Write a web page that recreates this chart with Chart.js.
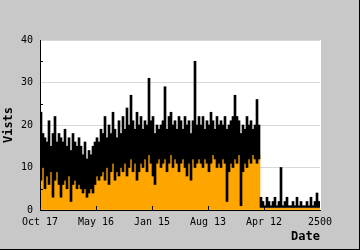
<!DOCTYPE html>
<html>
<head>
<meta charset="utf-8">
<script src="https://cdn.jsdelivr.net/npm/chart.js@4/dist/chart.umd.min.js"></script>
<style>
  body { margin: 0; background: #c8c8c8; }
  canvas { display: block; }
</style>
</head>
<body>
<canvas id="myChart" width="360" height="250"></canvas>
<script>
// x axis tick labels, one every 28 columns (140 columns of 2px)
const xLabels = ['Oct 17', 'May 16', 'Jan 15', 'Aug 13', 'Apr 12', '2500'];
const yTicks = [0, 10, 20, 30, 40];

// orange area (per column)
const visitors = [
  8, 11, 6, 9, 7, 10, 6, 8, 10, 7,
  5, 7, 8, 6, 9, 5, 7, 8, 6, 7,
  6, 5, 6, 4, 5, 6, 5, 7, 9, 8,
  9, 10, 8, 11, 9, 10, 12, 8, 10, 9,
  11, 10, 12, 9, 11, 13, 10, 12, 11, 10,
  12, 11, 13, 10, 14, 12, 9, 7, 12, 13,
  11, 12, 13, 10, 12, 14, 11, 13, 12, 10,
  12, 13, 11, 9, 12, 8, 13, 11, 12, 13,
  12, 11, 13, 12, 10, 12, 14, 13, 11, 12,
  11, 13, 12, 2, 10, 12, 11, 13, 12, 14,
  1, 10, 12, 11, 13, 12, 14, 13, 12, 13,
  0.4, 0.4, 0.4, 0.4, 0.4, 0.4, 0.4, 0.4, 0.4, 0.4,
  0.4, 0.4, 0.4, 0.4, 0.4, 0.4, 0.4, 0.4, 0.4, 0.4,
  0.4, 0.4, 0.4, 0.4, 0.4, 0.4, 0.4, 0.4, 0.4, 0.4
];

// black line: lowest and highest point inside each column
const visitsLow = [
  7, 10, 5, 8, 6, 9, 3, 7, 9, 6,
  3, 6, 7, 5, 8, 2, 6, 7, 5, 6,
  5, 4, 5, 3, 4, 5, 4, 6, 8, 7,
  8, 9, 7, 10, 6, 9, 11, 7, 9, 8,
  10, 9, 11, 8, 10, 12, 9, 11, 7, 9,
  11, 10, 12, 9, 13, 11, 8, 6, 11, 12,
  10, 11, 12, 9, 11, 13, 10, 12, 11, 9,
  11, 12, 10, 8, 11, 7, 12, 10, 11, 12,
  11, 10, 12, 11, 9, 11, 13, 12, 10, 11,
  10, 12, 11, 2, 9, 11, 10, 12, 11, 13,
  1, 9, 11, 10, 12, 11, 13, 12, 11, 12,
  0.6, 0.6, 0.6, 0.6, 0.6, 0.6, 0.6, 0.6, 0.6, 0.6,
  0.6, 0.6, 0.6, 0.6, 0.6, 0.6, 0.6, 0.6, 0.6, 0.6,
  0.6, 0.6, 0.6, 0.6, 0.6, 0.6, 0.6, 0.6, 0.6, 0.6
];
const visitsHigh = [
  23, 18, 17, 16, 21, 15, 18, 22, 16, 18,
  17, 16, 19, 15, 17, 14, 18, 16, 15, 17,
  15, 13, 16, 12, 14, 13, 15, 16, 17, 16,
  19, 18, 22, 17, 20, 18, 23, 19, 17, 21,
  18, 22, 19, 24, 20, 27, 21, 19, 23, 20,
  22, 19, 21, 20, 31, 21, 22, 18, 20, 19,
  20, 21, 29, 19, 22, 23, 20, 21, 19, 22,
  21, 19, 22, 20, 21, 18, 21, 35, 20, 22,
  20, 22, 19, 21, 20, 23, 21, 19, 22, 20,
  21, 20, 22, 19, 20, 21, 22, 27, 22, 21,
  18, 20, 19, 22, 20, 21, 19, 20, 26, 20,
  3, 2, 1, 3, 2, 1, 2, 3, 1, 2,
  10, 1, 2, 3, 1, 1, 2, 1, 3, 1,
  2, 1, 1, 2, 1, 3, 1, 2, 4, 2
];

const ctx = document.getElementById('myChart');
const FONT = "'DejaVu Sans Mono', monospace";

const orangeData = visitors.map((v, i) => ({ x: i + 0.5, y: v }));
const blackData = visitsLow.map((v, i) => ({ x: i + 0.5, y: [v, visitsHigh[i]] }));

const frame = {
  id: 'frame',
  beforeDraw(chart) {
    const c = chart.ctx, a = chart.chartArea;
    c.save();
    c.fillStyle = '#ffffff';
    c.fillRect(a.left, a.top, a.right - a.left + 1, a.bottom - a.top);
    c.restore();
  },
  afterDatasetsDraw(chart) {
    const c = chart.ctx, a = chart.chartArea;
    const y = chart.scales.y, x = chart.scales.x;
    c.save();
    c.strokeStyle = '#000';
    c.lineWidth = 1;
    c.beginPath();
    // small marks between the grid lines
    [5, 15, 25, 35].forEach(v => {
      const py = Math.round(y.getPixelForValue(v)) + 0.5;
      c.moveTo(a.left, py);
      c.lineTo(a.left + 3, py);
    });
    [28, 56, 84, 112].forEach(v => {
      const px = Math.round(x.getPixelForValue(v)) + 0.5;
      c.moveTo(px, a.bottom);
      c.lineTo(px, a.bottom - 4);
    });
    c.stroke();
    c.restore();
  },
  afterDraw(chart) {
    const c = chart.ctx;
    c.save();
    c.strokeStyle = '#000';
    c.lineWidth = 1;
    c.beginPath();
    c.moveTo(359.5, 0);
    c.lineTo(359.5, 250);
    c.moveTo(0, 249.5);
    c.lineTo(360, 249.5);
    c.stroke();
    c.restore();
  }
};

new Chart(ctx, {
  type: 'bar',
  data: {
    datasets: [{
      label: 'Visits',
      data: blackData,
      backgroundColor: '#000000',
      borderWidth: 0,
      grouped: false,
      order: 0
    }, {
      label: 'Visitors',
      data: orangeData,
      backgroundColor: '#ffa500',
      borderWidth: 0,
      grouped: false,
      order: 1
    }]
  },
  options: {
    responsive: false,
    animation: false,
    barPercentage: 1,
    categoryPercentage: 1,
    layout: { padding: { top: 40, right: 40, left: 0, bottom: 0 } },
    plugins: {
      legend: { display: false },
      tooltip: { enabled: false }
    },
    scales: {
      x: {
        type: 'linear',
        min: 0,
        max: 140,
        offset: false,
        afterFit: s => { s.height = 40; },
        grid: { display: false, drawTicks: false },
        border: { display: true, color: '#000', width: 1, z: 1 },
        ticks: {
          stepSize: 28,
          autoSkip: false,
          maxRotation: 0,
          padding: 6,
          color: '#000',
          font: { family: FONT, size: 10 },
          callback: v => xLabels[Math.round(v / 28)]
        },
        title: {
          display: true,
          text: 'Date',
          align: 'end',
          color: '#000',
          padding: { top: 0, bottom: 6 },
          font: { family: FONT, size: 12, weight: 'bold' }
        }
      },
      y: {
        min: yTicks[0],
        max: yTicks[yTicks.length - 1],
        afterFit: s => { s.width = 40; },
        grid: { color: '#d8d8d8', drawTicks: false },
        border: { display: true, color: '#000', width: 1, z: 1 },
        ticks: {
          stepSize: 10,
          padding: 7,
          color: '#000',
          font: { family: FONT, size: 10 }
        },
        title: {
          display: true,
          text: 'Vists',
          color: '#000',
          padding: { top: 2, bottom: 0 },
          font: { family: FONT, size: 12, weight: 'bold' }
        }
      }
    }
  },
  plugins: [frame]
});
</script>
</body>
</html>
